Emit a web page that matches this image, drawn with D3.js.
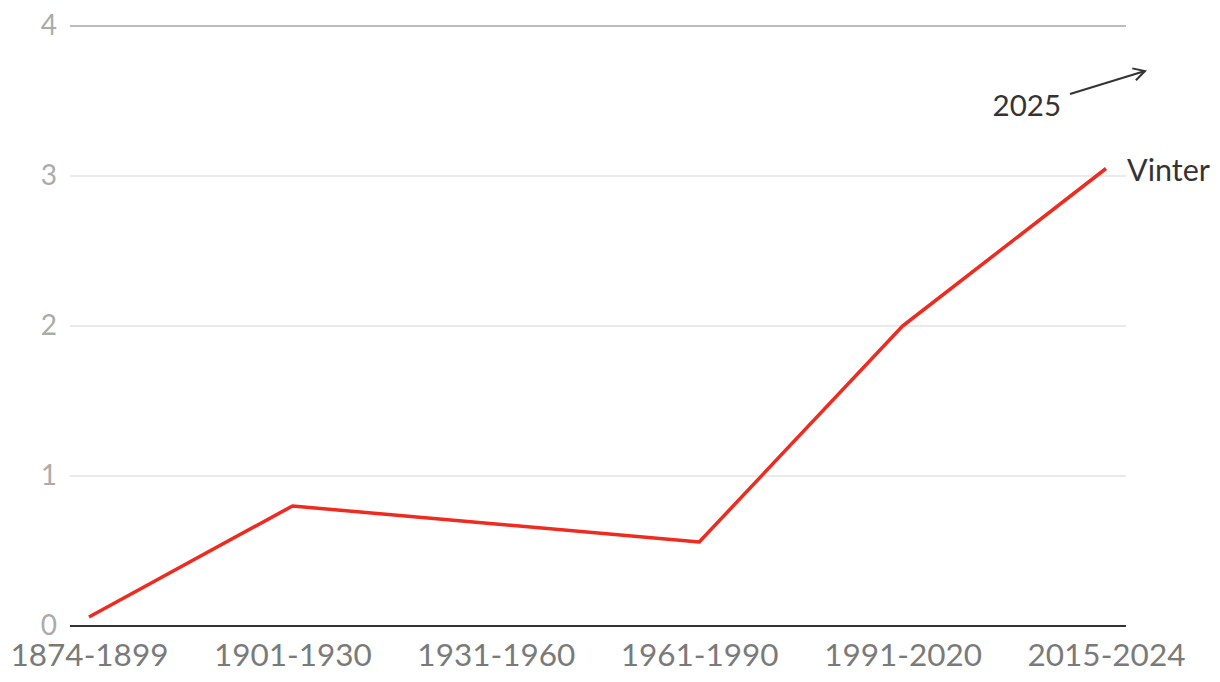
<!DOCTYPE html>
<html><head><meta charset="utf-8">
<script src="https://cdn.jsdelivr.net/npm/d3@7"></script>
<style>body{margin:0;background:#fff;} svg{display:block;font-family:Lato,"Open Sans",sans-serif;}</style>
</head><body>
<svg id="c" width="1220" height="682"></svg>
<script>
const categories = ["1874-1899","1901-1930","1931-1960","1961-1990","1991-2020","2015-2024"];
const vinterValues = [0.06, 0.80, 0.68, 0.56, 2.00, 3.05];
const yTicks = [0,1,2,3,4];
const seriesLabel = "Vinter";
const annotationLabel = "2025";
const annotationValue = 3.7;

const svg = d3.select("#c");
const x = d3.scalePoint().domain(categories).range([89,1106]);
const y = d3.scaleLinear().domain([0,4]).range([626,26]);
const plotL = 70, plotR = 1126;

// gridlines
svg.append("g").selectAll("line").data(yTicks.filter(d=>d>0)).join("line")
  .attr("x1",plotL).attr("x2",plotR).attr("y1",d=>y(d)).attr("y2",d=>y(d))
  .attr("stroke",d=>d===4?"#bdbdbd":"#e3e3e3").attr("stroke-width",d=>d===4?2:1.5);

// y labels
const yAxis = d3.axisLeft(y).tickValues(yTicks).tickSize(0).tickPadding(0).tickFormat(d3.format("d"));
const ya = svg.append("g").attr("transform","translate(57,0)").call(yAxis);
ya.select(".domain").remove();
ya.selectAll("text").attr("fill","#ababab").attr("font-size",28).attr("font-family","Lato,sans-serif");

// baseline
svg.append("line").attr("x1",plotL).attr("x2",plotR).attr("y1",y(0)).attr("y2",y(0))
  .attr("stroke","#333").attr("stroke-width",2);

// x labels
const xAxis = d3.axisBottom(x).tickSize(0).tickPadding(0);
const xa = svg.append("g").attr("transform","translate(0,"+(y(0)+40)+")").call(xAxis);
xa.select(".domain").remove();
xa.selectAll("text").attr("fill","#7a7a7a").attr("font-size",31.5).attr("font-family","Lato,sans-serif").attr("dy","0");

// line
svg.append("path").datum(vinterValues)
  .attr("d", d3.line().x((d,i)=>x(categories[i])).y(d=>y(d)))
  .attr("fill","none").attr("stroke","#ef2a1f").attr("stroke-width",3.5).attr("stroke-linejoin","round");

// series label
const last = vinterValues.length-1;
svg.append("text").attr("x",x(categories[last])+21).attr("y",y(vinterValues[last])+12)
  .attr("fill","#333").attr("font-size",30.5).text(seriesLabel);

// annotation arrow
const ax2 = x(categories[last])+39, ay2 = y(annotationValue);
const ax1 = ax2-75, ay1 = ay2+23;
svg.append("line").attr("x1",ax1).attr("y1",ay1).attr("x2",ax2).attr("y2",ay2)
  .attr("stroke","#333").attr("stroke-width",2);
const ang = Math.atan2(ay2-ay1, ax2-ax1);
const hl = 13, ha = 0.5;
svg.append("path")
  .attr("d", `M${ax2-hl*Math.cos(ang-ha)},${ay2-hl*Math.sin(ang-ha)} L${ax2},${ay2} L${ax2-hl*Math.cos(ang+ha)},${ay2-hl*Math.sin(ang+ha)}`)
  .attr("fill","none").attr("stroke","#333").attr("stroke-width",2);
svg.append("text").attr("x",ax1-9).attr("y",ay1+22).attr("text-anchor","end")
  .attr("fill","#333").attr("font-size",29.5).text(annotationLabel);
</script>
</body></html>
